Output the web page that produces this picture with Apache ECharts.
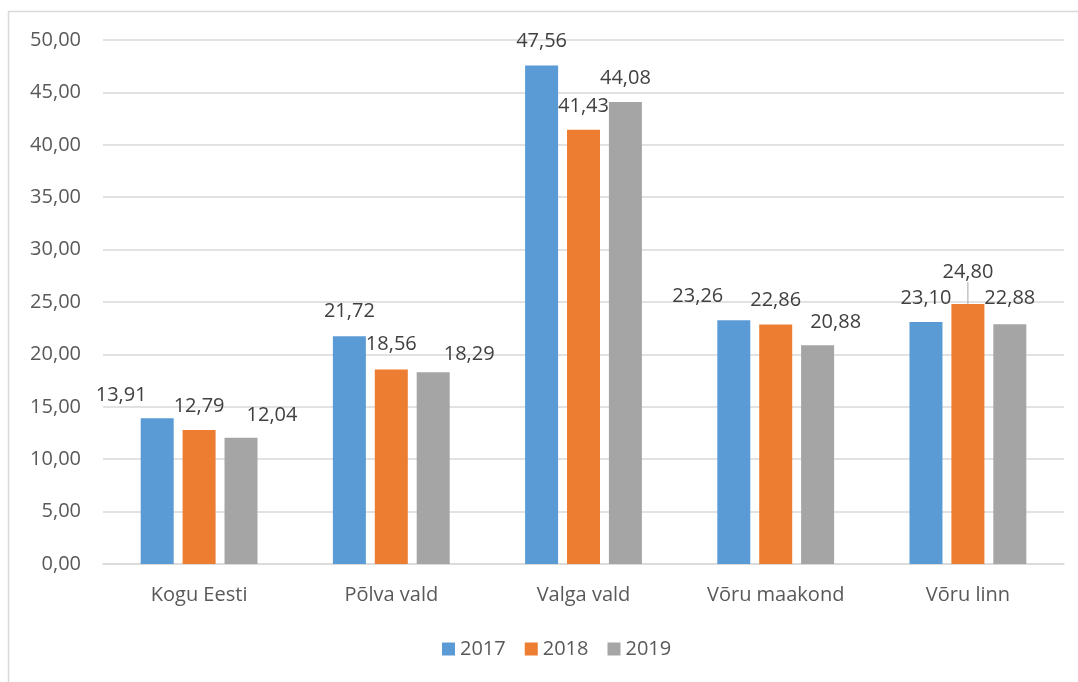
<!DOCTYPE html>
<html>
<head>
<meta charset="utf-8">
<style>
  html, body { margin: 0; padding: 0; background: #fff; }
  #chart { width: 1078px; height: 682px; }
</style>
<script src="https://cdn.jsdelivr.net/npm/echarts@6/dist/echarts.min.js"></script>
</head>
<body>
<div id="chart"></div>
<script>
'use strict';

const categories = ['Kogu Eesti', 'Põlva vald', 'Valga vald', 'Võru maakond', 'Võru linn'];
const years = ['2017', '2018', '2019'];
const values2017 = [13.91, 21.72, 47.56, 23.26, 23.10];
const values2018 = [12.79, 18.56, 41.43, 22.86, 24.80];
const values2019 = [12.04, 18.29, 44.08, 20.88, 22.88];
const yMin = 0;
const yMax = 50;
const yStep = 5;

(function () {
  const FONT = '"Open Sans", sans-serif';
  const colors = ['#5b9bd5', '#ed7d31', '#a5a5a5'];
  const fmt = (v) => v.toFixed(2).replace('.', ',');

  // Excel labels were nudged by hand in the original; [dx, dy] per series / category
  const shifts = [
    [[-36, 1], [0, -1], [0, 0], [-36, 0], [0, 0]],
    [[0, 0], [0, -1], [0, 0], [0, 0], [0, -8]],
    [[31, 1], [36, 6], [0, 0], [18, 1], [0, -2]],
  ];

  const seriesValues = [values2017, values2018, values2019];

  const series = seriesValues.map((vals, s) => ({
    name: years[s],
    type: 'bar',
    barWidth: 33,
    barGap: '27%',
    itemStyle: { color: colors[s] },
    label: {
      show: true,
      position: 'top',
      distance: 14,
      fontFamily: FONT,
      fontSize: 20,
      color: '#404040',
      formatter: (p) => fmt(p.value),
    },
    labelLayout: (p) => ({ dx: shifts[s][p.dataIndex][0], dy: shifts[s][p.dataIndex][1] }),
    labelLine: { show: false, lineStyle: { color: '#a6a6a6', width: 1 } },
    data: vals.map((v, i) => (s === 1 && i === 4 ? { value: v, labelLine: { show: true } } : v)),
  }));

  const chart = echarts.init(document.getElementById('chart'), null, { renderer: 'canvas' });
  chart.setOption({
    animation: false,
    color: colors,
    graphic: [{
      type: 'rect',
      shape: { x: 8.5, y: 11.5, width: 1200, height: 800 },
      style: { fill: 'none', stroke: '#d9d9d9', lineWidth: 1.5 },
      silent: true,
    }],
    grid: { left: 103, right: 14, top: 40, bottom: 118, containLabel: false },
    legend: {
      bottom: 18,
      left: 437,
      itemWidth: 13,
      itemHeight: 13,
      itemGap: 19,
      icon: 'rect',
      textStyle: { fontFamily: FONT, fontSize: 20, color: '#595959' },
      data: years,
    },
    xAxis: {
      type: 'category',
      data: categories,
      axisLine: { lineStyle: { color: '#d9d9d9', width: 1.5 } },
      axisTick: { show: false },
      axisLabel: { fontFamily: FONT, fontSize: 20, color: '#595959', margin: 21 },
    },
    yAxis: {
      type: 'value',
      min: yMin,
      max: yMax,
      interval: yStep,
      axisLine: { show: false },
      axisTick: { show: false },
      splitLine: { lineStyle: { color: '#d9d9d9', width: 1.5 } },
      axisLabel: { fontFamily: FONT, fontSize: 20, color: '#595959', margin: 22, formatter: fmt },
    },
    series,
  });
})();
</script>
</body>
</html>
